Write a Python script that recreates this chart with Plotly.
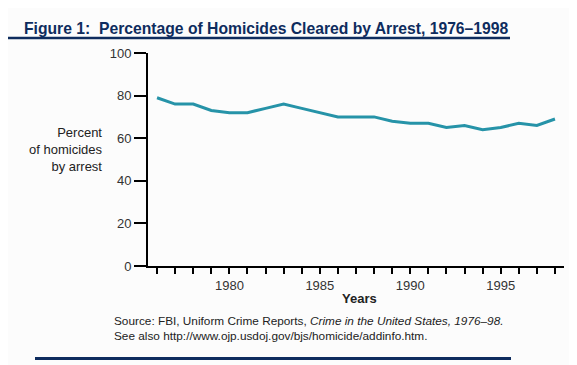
import plotly.graph_objects as go

years = list(range(1976, 1999))
pct_cleared = [79, 76, 76, 73, 72, 72, 74, 76, 74, 72, 70, 70, 70, 68, 67, 67, 65, 66, 64, 65, 67, 66, 69]
x_tick_labels = ["1980", "1985", "1990", "1995"]
y_tick_vals = [0, 20, 40, 60, 80, 100]

OFF = 8  # page body margin
W, H = 577 - OFF, 365 - OFF
L, R, T, B = 148 - OFF, 13, 53 - OFF, 99
PW, PH = W - L - R, H - T - B

def px(xp):
    return (xp - OFF - L) / PW

def py(yp):
    return (H - B - (yp - OFF)) / PH

NAVY = "#0e2c5e"
TEAL = "rgb(38,147,168)"
BG = "#fcfcfc"

fig = go.Figure()
fig.add_trace(go.Scatter(x=years, y=pct_cleared, mode="lines",
                         line=dict(color=TEAL, width=3), hoverinfo="skip"))

ticktext = [str(y) if str(y) in x_tick_labels else "" for y in years]

fig.update_layout(
    width=W, height=H,
    margin=dict(l=L, r=R, t=T, b=B, pad=0),
    paper_bgcolor=BG, plot_bgcolor=BG,
    showlegend=False,
    font=dict(family="Liberation Sans, Arial, sans-serif", color="#222222"),
    xaxis=dict(range=[1975.5, 1998.5], tickmode="array", tickvals=years, ticktext=ticktext,
               ticks="outside", ticklen=6, tickwidth=1.5, tickcolor="black",
               showline=True, linecolor="black", linewidth=2, showgrid=False, zeroline=False,
               tickfont=dict(size=13, color="#333333")),
    yaxis=dict(range=[0, 100], tickmode="array", tickvals=y_tick_vals,
               ticks="outside", ticklen=12, tickwidth=1.5, tickcolor="black",
               showline=True, linecolor="black", linewidth=2, showgrid=False, zeroline=False,
               tickfont=dict(size=13, color="#333333")),
)

annotations = [
    dict(text="<b>Figure 1:  Percentage of Homicides Cleared by Arrest, 1976\u20131998</b>",
         x=px(22), y=py(28), xanchor="left", yanchor="middle",
         font=dict(size=15.7, color=NAVY, family="Liberation Sans, Arial, sans-serif")),
    dict(text="Percent<br>of homicides<br>by arrest", x=px(104), y=py(149),
         xanchor="right", yanchor="middle", align="right",
         font=dict(size=13, color="#222222")),
    dict(text="<b>Years</b>", x=px(359), y=py(298), xanchor="center", yanchor="middle",
         font=dict(size=13, color="#222222")),
    dict(text="Source: FBI, Uniform Crime Reports, <i>Crime in the United States, 1976\u201398.</i>",
         x=px(112), y=py(321), xanchor="left", yanchor="middle",
         font=dict(size=11.8, color="#222222")),
    dict(text="See also http://www.ojp.usdoj.gov/bjs/homicide/addinfo.htm.",
         x=px(112), y=py(336), xanchor="left", yanchor="middle",
         font=dict(size=11.8, color="#222222")),
]
for a in annotations:
    a.update(xref="paper", yref="paper", showarrow=False)
fig.update_layout(annotations=annotations)

fig.add_shape(type="line", xref="paper", yref="paper", x0=px(0), x1=px(510), y0=py(38), y1=py(38),
              line=dict(color=NAVY, width=2.5))
fig.add_shape(type="line", xref="paper", yref="paper", x0=px(35), x1=px(511), y0=py(358.5), y1=py(358.5),
              line=dict(color=NAVY, width=3))

fig.write_html("out.html")
